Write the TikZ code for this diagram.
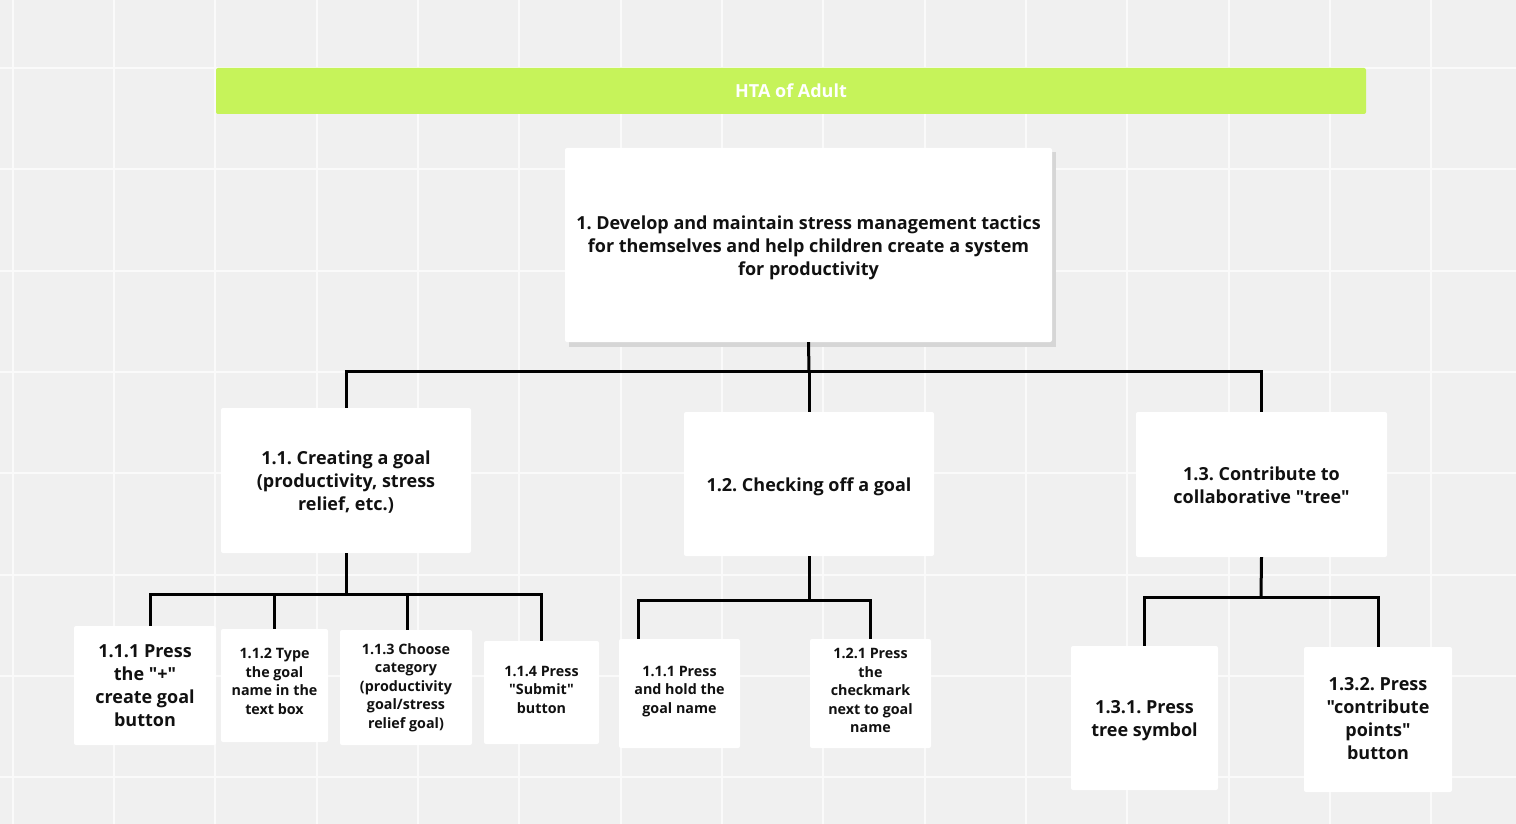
\documentclass[tikz,border=0pt]{standalone}
\usepackage{fontspec}
\setmainfont{Open Sans}[Ligatures=TeXOff]
\definecolor{bg}{HTML}{F0F0F0}
\definecolor{gridc}{HTML}{FAFAFA}
\definecolor{lime}{HTML}{C6F35A}
\definecolor{txt}{HTML}{111111}
\definecolor{shadowc}{HTML}{D6D6D6}
\frenchspacing
\begin{document}
\begin{tikzpicture}[x=1pt,y=-1pt,
  box/.style={fill=white, rounded corners=2pt, inner sep=0pt},
  lbl/.style={inner sep=0pt, align=center, text=txt,
    font=\bfseries\fontsize{18}{23}\selectfont},
  small/.style={font=\bfseries\fontsize{14.3}{18.5}\selectfont},
  conn/.style={line width=3pt, draw=black},
  gridl/.style={line width=2pt, draw=gridc}]
\useasboundingbox (0,0) rectangle (1516,824);
\fill[bg] (0,0) rectangle (1516,824);
\foreach \i in {0,...,14} \draw[gridl] ({12.7+101.33*\i},0) -- ({12.7+101.33*\i},824);
\foreach \i in {0,...,7} \draw[gridl] (0,{68+101.33*\i}) -- (1516,{68+101.33*\i});

% title bar
\node[fill=lime, rounded corners=2pt, minimum width=1150pt, minimum height=46pt, inner sep=0pt,
  text=white, font=\bfseries\fontsize{18}{23}\selectfont] (title) at (791,91) {HTA of Adult};

% main
\fill[shadowc] (569,152) rectangle (1056,347);
\node[box, minimum width=487pt, minimum height=194pt] (main) at (808.5,245) {};
\node[lbl] (maint) at ([yshift=-3pt]main.center)
  {1. Develop and maintain stress management tactics\\for themselves and help children create a system\\for productivity};

% level 1
\node[box, minimum width=250pt, minimum height=145pt] (n11) at (346,480.5) {};
\node[lbl] (n11t) at ([yshift=-2pt]n11.center) {1.1. Creating a goal\\(productivity, stress\\relief, etc.)};
\node[box, minimum width=250pt, minimum height=144pt] (n12) at (809,484) {};
\node[lbl] (n12t) at ([yshift=-3pt]n12.center) {1.2. Checking off a goal};
\node[box, minimum width=251pt, minimum height=145pt] (n13) at (1261.5,484.5) {};
\node[lbl] (n13t) at ([yshift=-1pt]n13.center) {1.3. Contribute to\\collaborative "tree"};

% level 2
\node[box, minimum width=142pt, minimum height=119pt] (n111) at (145,685.5) {};
\node[lbl] (n111t) at (n111.center) {1.1.1 Press\\the "+"\\create goal\\button};
\node[box, minimum width=107pt, minimum height=113pt] (n112) at (274.5,685.5) {};
\node[lbl, small] (n112t) at ([yshift=4pt]n112.center) {1.1.2 Type\\the goal\\name in the\\text box};
\node[box, minimum width=132pt, minimum height=115pt] (n113) at (406,687.5) {};
\node[lbl, small] (n113t) at (n113.center) {1.1.3 Choose\\category\\(productivity\\goal/stress\\relief goal)};
\node[box, minimum width=115pt, minimum height=103pt] (n114) at (541.5,692.5) {};
\node[lbl, small] (n114t) at ([yshift=3pt]n114.center) {1.1.4 Press\\"Submit"\\button};
\node[box, minimum width=121pt, minimum height=109pt] (n121) at (679.5,693.5) {};
\node[lbl, small] (n121t) at ([yshift=2pt]n121.center) {1.1.1 Press\\and hold the\\goal name};
\node[box, minimum width=121pt, minimum height=109pt] (n122) at (870.5,693.5) {};
\node[lbl, small] (n122t) at ([yshift=3pt]n122.center) {1.2.1 Press\\the\\checkmark\\next to goal\\name};
\node[box, minimum width=147pt, minimum height=144pt] (n131) at (1144.5,718) {};
\node[lbl] (n131t) at ([yshift=-3pt]n131.center) {1.3.1. Press\\tree symbol};
\node[box, minimum width=148pt, minimum height=145pt] (n132) at (1378,719.5) {};
\node[lbl] (n132t) at ([yshift=1pt]n132.center) {1.3.2. Press\\"contribute\\points"\\button};

% junctions
\coordinate (j1) at (809,371);
\coordinate (j2) at (346,594);
\coordinate (j3) at (809,600);
\coordinate (j4) at (1261,597);

% connectors
\draw[conn] (main.south) -- (j1);
\draw[conn] (n11.north) |- (j1) -| (n13.north);
\draw[conn] (j1) -- (n12.north);

\draw[conn] (n11.south) -- (j2);
\draw[conn] ([xshift=5pt]n111.north) |- (j2) -| ([xshift=-0.5pt]n114.north);
\draw[conn] (n112.north) -- (n112.north |- j2);
\draw[conn] ([xshift=1pt]n113.north) -- ([xshift=1pt]n113.north |- j2);

\draw[conn] (n12.south) -- (j3);
\draw[conn] ([xshift=-41.5pt]n121.north) |- (j3) -| (n122.north);

\draw[conn] (n13.south) -- (j4);
\draw[conn] (n131.north) |- (j4) -| (n132.north);
\end{tikzpicture}
\end{document}
